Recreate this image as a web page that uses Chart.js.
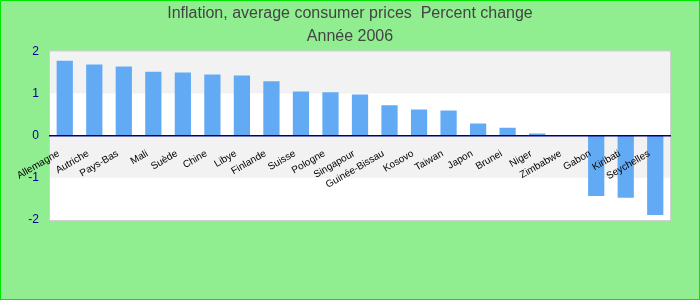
<!DOCTYPE html>
<html lang="fr">
<head>
<meta charset="utf-8">
<title>Inflation 2006</title>
<script src="https://cdn.jsdelivr.net/npm/chart.js@4.4.1/dist/chart.umd.min.js"></script>
<style>
  html, body { margin: 0; padding: 0; background: #90ee90; }
  #grafico { display: block; }
</style>
</head>
<body>
<canvas id="grafico" width="700" height="300"></canvas>
<script>
// Datos (inflación 2006, %)
const paises = ['Allemagne', 'Autriche', 'Pays-Bas', 'Mali', 'Suède', 'Chine', 'Libye', 'Finlande', 'Suisse', 'Pologne',
    'Singapour', 'Guinée-Bissau', 'Kosovo', 'Taiwan', 'Japon', 'Brunei', 'Niger', 'Zimbabwe', 'Gabon', 'Kiribati', 'Seychelles'];
const inflacion = [1.78, 1.69, 1.64, 1.52, 1.50, 1.45, 1.43, 1.29, 1.05, 1.03,
    0.98, 0.72, 0.62, 0.60, 0.29, 0.19, 0.05, null, -1.43, -1.47, -1.88];
const ticksY = [-2, -1, 0, 1, 2];
const titulo = ['Inflation, average consumer prices  Percent change', 'Année 2006'];

Chart.defaults.font.family = "'Liberation Sans', Arial, sans-serif";

// Fondo verde, zona del gráfico con franjas grises alternas y bordes
const fondoGrafico = {
    id: 'fondoGrafico',
    beforeDraw(chart) {
        const { ctx, width, height, chartArea: a } = chart;
        const escalaY = chart.scales.y;
        ctx.save();
        ctx.fillStyle = '#90ee90';
        ctx.fillRect(0, 0, width, height);

        ctx.fillStyle = '#ffffff';
        ctx.fillRect(a.left, a.top, a.right - a.left, a.bottom - a.top);

        // franjas: empezando por arriba, una sí y una no
        ctx.fillStyle = '#f2f2f2';
        const valores = escalaY.ticks.map(t => t.value).sort((p, q) => q - p);
        for (let i = 0; i < valores.length - 1; i += 2) {
            const y1 = escalaY.getPixelForValue(valores[i]);
            const y2 = escalaY.getPixelForValue(valores[i + 1]);
            ctx.fillRect(a.left, y1, a.right - a.left, y2 - y1);
        }

        ctx.lineWidth = 1;
        ctx.strokeStyle = '#d0d0d0';
        ctx.strokeRect(a.left - 0.5, a.top - 0.5, a.right - a.left + 1, a.bottom - a.top + 1);

        ctx.strokeStyle = '#00e600';
        ctx.strokeRect(0.5, 0.5, width - 1, height - 1);
        ctx.restore();
    }
};

function dibujarGrafico() {
    const ctx = document.getElementById('grafico');
    if (!ctx) return;

    new Chart(ctx, {
        type: 'bar',
        data: {
            labels: paises,
            datasets: [{
                label: 'Inflation',
                data: inflacion,
                backgroundColor: '#63aaf5',
                categoryPercentage: 0.55,
                barPercentage: 1
            }]
        },
        plugins: [fondoGrafico],
        options: {
            responsive: false,
            animation: false,
            devicePixelRatio: 1,
            layout: { padding: { left: 0, top: 0, right: 0, bottom: 80 } },
            plugins: {
                legend: { display: false },
                tooltip: { enabled: false },
                title: {
                    display: true,
                    text: titulo,
                    color: '#444444',
                    font: { size: 16, weight: 'normal', lineHeight: 1.45 },
                    padding: { top: 2, bottom: 3 }
                }
            },
            scales: {
                x: {
                    position: { y: 0 },
                    grid: { color: 'transparent', drawTicks: false },
                    border: { display: true, color: '#000080', width: 1.5, z: 1 },
                    ticks: {
                        z: 1,
                        autoSkip: false,
                        minRotation: 30,
                        maxRotation: 30,
                        padding: 12,
                        labelOffset: -6,
                        color: '#000000',
                        font: { size: 10 }
                    }
                },
                y: {
                    min: -2,
                    max: 2,
                    afterBuildTicks: escala => { escala.ticks = ticksY.map(v => ({ value: v })); },
                    afterFit: escala => { escala.width = 50; },
                    grid: { display: false, drawTicks: false },
                    border: { display: false },
                    ticks: {
                        padding: 11,
                        color: '#00008b',
                        font: { size: 12 }
                    }
                },
                // eje vacío a la derecha: deja el margen sin descentrar el título
                margenDerecho: {
                    axis: 'y',
                    position: 'right',
                    afterFit: escala => { escala.width = 30; },
                    grid: { display: false, drawTicks: false },
                    border: { display: false },
                    ticks: { display: false }
                }
            }
        }
    });
}

dibujarGrafico();
</script>
</body>
</html>
